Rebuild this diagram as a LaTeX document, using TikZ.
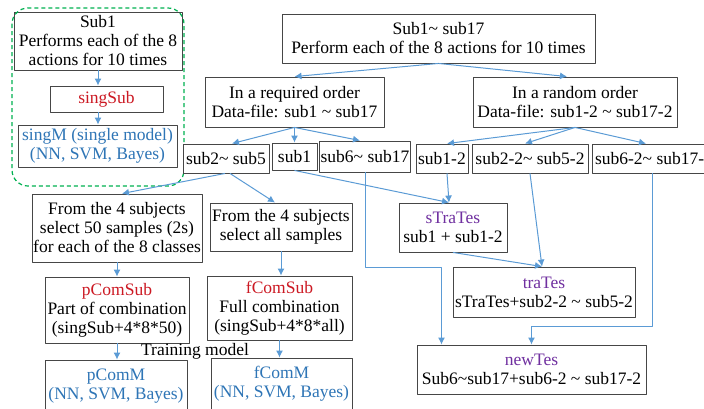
\documentclass[tikz,border=0pt]{standalone}
\usepackage{fontspec}
\setmainfont{Liberation Serif}
\usetikzlibrary{arrows.meta}
\definecolor{arrblue}{RGB}{91,155,213}
\definecolor{boxgray}{RGB}{70,70,70}
\definecolor{subred}{RGB}{204,25,35}
\definecolor{modblue}{RGB}{46,117,182}
\definecolor{tespurple}{RGB}{112,48,160}
\definecolor{dashgreen}{RGB}{0,176,80}
\newcommand{\tld}{\textasciitilde}

\begin{document}
\begin{tikzpicture}[x=1pt,y=-1pt,line join=round,
  font=\fontsize{17.5}{19}\selectfont,
  box/.style={draw=boxgray,line width=0.9pt,fill=white,align=center,inner sep=1pt},
  arr/.style={-{Latex[length=7pt,width=7pt]},color=arrblue,line width=1pt}]
\useasboundingbox (0,0) rectangle (704,408);
\clip (0,0) rectangle (704,408);
% single subject
\node[box,minimum width=168,minimum height=58] (sub1top) at (98,41) {Sub1\\Performs each of the 8\\actions for 10 times};
\node[box,minimum width=113,minimum height=26] (singsub) at (106.5,99) {\color{subred}singSub};
\node[box,minimum width=159,minimum height=42] (singm) at (97.5,146) {\color{modblue}singM (single model)\\\color{modblue}(NN, SVM, Bayes)};
\draw[dashgreen,line width=1.2pt,dash pattern=on 4pt off 3pt,rounded corners=16pt] (12,8) rectangle (184,186);
% all subjects
\node[box,minimum width=313,minimum height=49] (top) at (438.5,38.5) {Sub1\tld{} sub17\\Perform each of the 8 actions for 10 times};
\node[box,minimum width=179,minimum height=50] (req) at (294.5,102) {In a required order\\Data-file: sub1 \tld{} sub17};
\node[box,minimum width=204,minimum height=50] (rnd) at (575,102) {In a random order\\Data-file: sub1-2 \tld{} sub17-2};
\node[box,minimum width=86,minimum height=29] (s25) at (226,158.5) {sub2\tld{} sub5};
\node[box,minimum width=45,minimum height=27] (s1) at (294.5,156.5) {sub1};
\node[box,minimum width=90,minimum height=31] (s617) at (365,156.5) {sub6\tld{} sub17};
\node[box,minimum width=52,minimum height=29] (s12) at (442,158.5) {sub1-2};
\node[box,minimum width=116,minimum height=29] (s2252) at (530,158.5) {sub2-2\tld{} sub5-2};
\node[box,minimum width=124,minimum height=29] (s62) at (654,158.5) {sub6-2\tld{} sub17-2};
% combinations
\node[box,minimum width=170,minimum height=68] (fifty) at (117,228) {From the 4 subjects\\select 50 samples (2s)\\for each of the 8 classes};
\node[box,minimum width=142,minimum height=48] (all) at (281,227) {From the 4 subjects\\select all samples};
\node[box,minimum width=144,minimum height=66] (pcomsub) at (117,310) {\color{subred}pComSub\\Part of combination\\(singSub+4*8*50)};
\node[box,minimum width=145,minimum height=64] (fcomsub) at (279.5,308) {\color{subred}fComSub\\Full combination\\(singSub+4*8*all)};
\node (train) at (195,351) {Training model};
\node[box,minimum width=142,minimum height=52] (pcomm) at (116,386) {\color{modblue}pComM\\\color{modblue}(NN, SVM, Bayes)};
\node[box,minimum width=141,minimum height=52] (fcomm) at (281.5,384) {\color{modblue}fComM\\\color{modblue}(NN, SVM, Bayes)};
% test sets
\node[box,minimum width=108,minimum height=49] (stRates) at (453,227.5) {\color{tespurple}sTraTes\\sub1 + sub1-2};
\node[box,minimum width=182,minimum height=50] (trates) at (544,292) {\color{tespurple}traTes\\sTraTes+sub2-2 \tld{} sub5-2};
\node[box,minimum width=229,minimum height=49] (newtes) at (531.5,369.5) {\color{tespurple}newTes\\Sub6\tld{}sub17+sub6-2 \tld{} sub17-2};
% arrows
\draw[arr] (sub1top.south) -- (sub1top.south |- singsub.north);
\draw[arr] (sub1top.south |- singsub.south) -- (sub1top.south |- singm.north);
\draw[arr] (top.south) -- (req.north);
\draw[arr] (top.south) -- ([xshift=-8]rnd.north);
\draw[arr] (req.south) -- ([xshift=6]s25.north);
\draw[arr] (req.south) -- (s1.north);
\draw[arr] (req.south) -- ([xshift=-5]s617.north);
\draw[arr] (rnd.south) -- ([xshift=5]s12.north);
\draw[arr] (rnd.south) -- ([xshift=-5]s2252.north);
\draw[arr] (rnd.south) -- ([xshift=-8]s62.north);
\draw[arr] ([xshift=-1]s25.south) -- ([xshift=5]fifty.north);
\draw[arr] ([xshift=4]s25.south) -- ([xshift=-6]all.north);
\draw[arr] (s1.south) -- ([xshift=-4]stRates.north);
\draw[arr] ([xshift=5]s12.south) -- ([xshift=-4]stRates.north);
\draw[arr] (s617.south) -- ++(0,95) -| ([xshift=-90]newtes.north);
\draw[arr] (s2252.south) -- ([xshift=-2]trates.north);
\draw[arr] (stRates.south) -- ([xshift=-2]trates.north);
\draw[arr] ([xshift=-2]s62.south) -- ++(0,153) -| (newtes.north);
\draw[arr] (fifty.south) -- (fifty.south |- pcomsub.north);
\draw[arr] (all.south) -- (all.south |- fcomsub.north);
\draw[arr] (pcomsub.south) -- (pcomsub.south |- pcomm.north);
\draw[arr] (fcomsub.south) -- (fcomsub.south |- fcomm.north);
\end{tikzpicture}
\end{document}
